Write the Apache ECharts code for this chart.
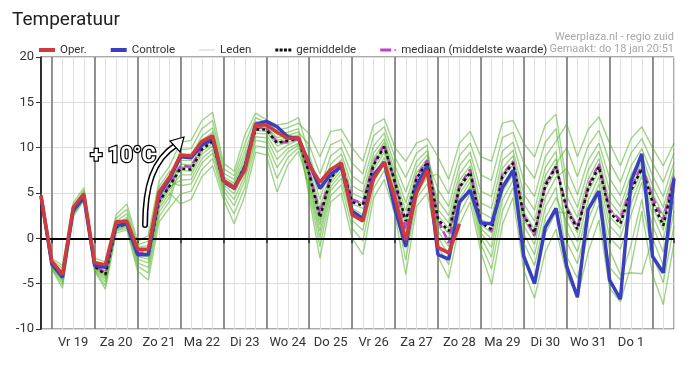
<!DOCTYPE html>
<html>
<head>
<meta charset="utf-8">
<script src="https://cdn.jsdelivr.net/npm/echarts@6/dist/echarts.min.js"></script>
<style>
html,body{margin:0;padding:0;background:#fff;}
#chart{width:694px;height:366px;}
</style>
</head>
<body>
<div id="chart"></div>
<script>
// Day labels (placed at 12:00 of each day); one point every 6 hours from 18 Jan 18:00
const dayLabels = ['Vr 19','Za 20','Zo 21','Ma 22','Di 23','Wo 24','Do 25','Vr 26','Za 27','Zo 28','Ma 29','Di 30','Wo 31','Do 1'];
const yTicks = [-10, -5, 0, 5, 10, 15, 20];

const oper = [4.7,-2.5,-4.0,3.4,4.9,-2.7,-2.9,1.8,1.9,-1.2,-1.2,5.1,6.8,9.2,9.1,10.7,11.3,6.4,5.6,7.5,
  12.5,12.5,11.7,11.0,11.1,8.1,6.2,7.6,8.3,2.6,1.9,6.6,8.4,4.4,-0.2,5.0,7.5,-1.0,-1.6,1.6,
  null,null,null,null,null,null,null,null,null,null,null,null,null,null,null,null,null,null,null,null];
const controle = [4.7,-2.8,-4.3,3.1,4.5,-3.0,-3.2,1.4,1.6,-1.8,-1.8,4.8,6.6,9.0,8.9,10.3,11.0,6.4,5.5,7.8,
  12.6,12.9,12.3,11.2,11.0,8.3,5.5,7.1,7.9,3.0,2.2,7.0,8.4,3.2,-0.9,5.8,8.0,-1.8,-2.3,4.0,
  5.3,1.7,1.6,5.6,7.5,-2.0,-5.0,1.2,3.3,-3.1,-6.5,3.2,5.2,-4.6,-6.7,6.3,9.3,-2.0,-3.8,6.6];
const gemiddelde = [4.7,-2.9,-4.1,3.0,4.6,-3.1,-4.0,1.2,1.6,-1.7,-1.8,4.0,5.8,7.7,7.6,9.8,10.7,6.2,5.6,8.0,
  12.0,12.0,10.5,10.8,11.0,7.1,2.3,6.6,8.1,4.0,3.6,8.1,10.1,6.2,1.9,6.6,8.4,2.1,0.8,5.6,
  7.3,1.7,1.0,6.8,8.3,2.5,0.6,5.8,7.9,3.2,1.0,5.5,7.9,2.9,1.6,5.3,7.7,4.0,1.4,6.4];
const mediaan = [4.7,-2.8,-4.0,3.1,4.7,-3.0,-3.8,1.4,1.7,-1.6,-1.6,4.2,5.9,8.0,7.9,10.0,10.9,6.2,5.4,7.6,
  12.2,12.2,10.6,10.6,11.0,7.3,2.8,6.8,8.2,4.3,3.8,8.3,10.3,6.0,1.0,6.8,8.6,2.0,-0.5,5.8,
  7.6,1.9,0.8,7.0,8.5,2.5,0.3,6.0,8.0,3.4,1.2,5.8,8.2,3.2,2.0,5.6,8.0,4.5,2.1,6.8];

// Ensemble members (Leden)
const lid1 = [4.9,-2.2,-3.0,3.9,5.6,-2.2,-2.6,2.6,3.8,-0.3,0.3,6.3,8.0, 10.6,10.8,13.0,13.9,8.3,7.4,11.4,13.8,13.1,12.5,12.7,13.3, 9.2,5.5,9.1,10.0,6.9,6.0,10.2,11.6,8.0,5.1,8.5,9.7, 2.5,1.1,5.9,7.5,2.1,1.4,7.1,8.5,2.9,1.0,6.1,8.2, 10.0,6.8,10.2,11.9,8.4,6.2,9.4,11.0,8.3,6.2,9.4];
const lid2 = [4.7,-2.9,-4.1,3.0,4.7,-3.1,-3.9,1.3,1.7,-1.6,-1.7,4.1,5.9, 9.8,9.9,12.1,13.0,7.7,6.9,10.4,13.3,12.8,11.9,12.2,12.7, 11.5,9.0,11.8,12.0,10.0,8.5,12.5,13.2,10.0,8.5,10.5,11.0, 9.0,6.5,10.5,11.8,9.0,8.5,12.7,13.0,10.5,9.0,12.5,13.7, 6.0,3.4,7.5,9.6,5.2,3.5,7.0,9.1,5.8,3.4,7.6];
const lid3 = [4.5,-3.4,-5.5,2.4,4.2,-3.6,-5.6,0.6,0.9,-3.6,-4.6,1.8,3.4, 4.9,5.2,7.6,8.8,4.8,2.7,5.6,10.2,10.0,6.6,8.9,10.0, 7.8,3.4,7.4,8.7,5.0,4.4,8.8,10.6,6.8,3.0,7.2,8.8, 5.4,3.5,8.0,9.5,5.2,4.6,9.6,10.6,6.3,4.6,9.0,10.7, 12.6,9.0,12.0,13.4,10.5,8.0,11.0,12.3,10.0,8.0,10.5];
const lid4 = [4.8,-2.6,-3.6,3.4,5.1,-2.7,-3.3,1.9,2.7,-1.0,-0.8,5.1,6.9, 8.6,8.6,10.8,11.7,6.8,6.1,9.0,12.5,12.3,11.1,11.4,11.7, 10.3,7.1,10.3,10.9,8.3,7.1,11.3,12.3,8.9,6.7,9.4,10.3, 0.8,-0.9,4.3,6.2,0.6,-1.0,5.1,7.1,0.5,-1.8,3.4,5.6, -2.0,-4.4,0.5,3.7,-3.2,-4.6,-0.7,4.3,-1.8,-4.9,1.4];
const lid5 = [4.6,-3.1,-4.6,2.8,4.5,-3.3,-4.5,1.0,1.4,-2.3,-2.7,3.3,5.0, 3.8,4.3,6.8,8.0,4.3,1.6,4.7,9.5,9.2,5.1,8.1,9.6, 5.8,0.1,5.3,6.6,2.0,0.9,6.3,8.3,4.4,-1.1,5.1,6.7, 7.1,4.9,9.1,10.5,7.0,6.4,11.1,11.7,8.3,6.6,10.6,12.1, 4.7,2.3,6.5,8.8,4.1,2.6,6.2,8.4,5.0,2.5,7.1];
const lid6 = [4.8,-2.7,-3.8,3.3,4.9,-2.8,-3.6,1.6,2.3,-1.3,-1.2,4.7,6.5, 7.9,7.8,10.0,10.9,6.3,5.7,8.2,12.1,12.1,10.6,10.9,11.1, 4.5,-2.2,4.0,5.0,0.0,-1.8,4.5,6.5,2.5,-4.0,3.5,5.0, -0.9,-2.9,2.7,4.9,-0.6,-3.4,3.0,5.6,-1.8,-4.6,0.5,2.9, 2.8,0.6,5.1,7.5,2.4,1.1,4.8,7.4,3.5,0.9,6.0];
const lid7 = [4.6,-3.3,-5.1,2.6,4.3,-3.5,-5.2,0.8,1.1,-3.1,-3.8,2.4,4.1, 8.2,8.1,10.3,11.2,6.5,5.9,8.5,12.3,12.2,10.8,11.1,11.4, 6.9,2.0,6.4,7.9,3.8,3.3,7.9,9.9,6.0,1.6,6.4,8.2, -2.0,-4.4,1.5,4.0,-1.5,-5.1,1.5,4.5,-3.5,-6.6,-1.5,1.0, -4.0,-6.5,-1.5,2.0,-5.5,-7.0,-3.0,3.0,-4.0,-7.3,-0.5];
const lid8 = [4.7,-2.9,-4.2,3.0,4.6,-3.1,-4.1,1.2,1.6,-1.8,-2.0,3.9,5.7, 6.4,6.5,8.8,9.8,5.6,4.3,6.9,11.2,11.1,8.7,9.9,10.5, 8.4,4.3,8.2,9.3,5.8,5.1,9.4,11.0,7.3,3.9,7.8,9.2, 3.2,1.7,6.4,8.0,2.9,2.2,7.7,9.1,3.8,1.9,6.9,8.8, 0.8,-1.5,3.2,6.0,0.1,-1.2,2.6,6.2,1.4,-1.5,4.1];
const lid9 = [4.8,-2.4,-3.3,3.6,5.3,-2.5,-3.0,2.2,3.2,-0.7,-0.3,5.7,7.4, 7.5,7.4,9.6,10.5,6.1,5.4,7.8,11.9,11.8,10.2,10.6,10.9, 5.2,-0.9,4.7,5.9,1.1,-0.3,5.5,7.5,3.5,-2.4,4.4,6.0, 1.4,-0.1,4.9,6.7,1.1,-0.1,5.9,7.6,1.4,-0.7,4.5,6.7, 7.7,4.8,8.6,10.5,6.6,4.7,8.0,9.9,6.9,4.6,8.4];
const lid10 = [4.6,-3.2,-4.8,2.7,4.4,-3.4,-4.8,0.9,1.3,-2.7,-3.2,2.9,4.6, 9.1,9.1,11.3,12.2,7.2,6.5,9.6,12.9,12.5,11.5,11.7,12.1, 6.6,1.5,6.1,7.5,3.3,2.6,7.5,9.5,5.5,0.8,6.0,7.8, 4.2,2.5,7.1,8.7,3.9,3.3,8.6,9.7,4.9,3.1,7.8,9.6, -0.4,-2.8,2.0,5.0,-1.3,-4.0,-3.8,-3.9,0.0,-3.0,3.0];
const lid11 = [4.7,-2.8,-3.9,3.1,4.8,-3.0,-3.8,1.4,2.0,-1.5,-1.5,4.4,6.2, 5.8,6.0,8.3,9.4,5.3,3.6,6.4,10.8,10.6,7.8,9.5,10.3, 7.3,2.6,6.9,8.3,4.3,3.9,8.3,10.3,6.4,2.2,6.8,8.5, 0.1,-1.8,3.6,5.7,0.1,-2.1,4.2,6.4,-0.5,-3.0,2.2,4.5, 1.9,-0.4,4.2,6.8,1.4,0.1,3.8,6.9,2.6,-0.2,5.2];
const lid12 = [4.7,-3.0,-4.4,2.9,4.5,-3.2,-4.3,1.1,1.5,-2.0,-2.3,3.6,5.4, 7.0,7.0,9.3,10.2,5.9,4.9,7.4,11.6,11.5,9.5,10.3,10.8, 6.2,0.8,5.7,7.1,2.7,1.8,6.9,8.9,5.0,-0.1,5.6,7.3, 1.9,0.5,5.4,7.1,1.5,0.6,6.5,8.1,2.1,0.2,5.4,7.5, 3.7,1.4,5.8,8.2,3.3,1.9,5.6,7.9,4.3,1.7,6.6];
const leden = [lid1,lid2,lid3,lid4,lid5,lid6,lid7,lid8,lid9,lid10,lid11,lid12];

const N = controle.length;
const cats = Array.from({length: N}, (_, i) => String(i));

const cOper = '#cf3a3c', cCtrl = '#3a3fc0', cMean = '#111111', cMed = '#c040c8';
const font = 'Roboto';

const series = [];
leden.forEach(d => series.push({
  name: 'Leden', type: 'line', data: d, showSymbol: false, symbol: 'none', z: 2,
  lineStyle: {color: 'rgba(82,178,40,0.55)', width: 1.4}, itemStyle: {color: '#d4e4cc'}
}));
series.push({
  name: 'nul', type: 'line', data: [], z: 3, symbol: 'none',
  markLine: {silent: true, symbol: 'none', label: {show: false}, animation: false,
    lineStyle: {color: '#000', width: 2, type: 'solid'}, data: [{yAxis: 0}]}
});
series.push({name: 'mediaan (middelste waarde)', type: 'line', data: mediaan, symbol: 'none', z: 4,
  lineStyle: {color: cMed, width: 2.5, type: [7, 4]}, itemStyle: {color: cMed}});
series.push({name: 'gemiddelde', type: 'line', data: gemiddelde, symbol: 'none', z: 5,
  lineStyle: {color: cMean, width: 2.5, type: [3, 3]}, itemStyle: {color: cMean}});
series.push({name: 'Controle', type: 'line', data: controle, symbol: 'none', z: 6,
  lineStyle: {color: cCtrl, width: 3.5}, itemStyle: {color: cCtrl}});
series.push({name: 'Oper.', type: 'line', data: oper, symbol: 'none', z: 7, connectNulls: false,
  lineStyle: {color: cOper, width: 3.5}, itemStyle: {color: cOper}});

const chart = echarts.init(document.getElementById('chart'), null, {renderer: 'canvas'});
chart.setOption({
  animation: false,
  textStyle: {fontFamily: font},
  title: {text: 'Temperatuur', left: 7, top: 6,
    textStyle: {fontSize: 19, fontWeight: 'normal', color: '#222', fontFamily: font}},
  legend: {
    left: 39, top: 44, padding: 0, itemWidth: 16, itemHeight: 4, itemGap: 24, selectedMode: false,
    textStyle: {fontSize: 11.5, color: '#333', fontFamily: font},
    data: [
      {name: 'Oper.', icon: 'rect', itemStyle: {color: cOper}},
      {name: 'Controle', icon: 'rect', itemStyle: {color: cCtrl}},
      {name: 'Leden', icon: 'path://M0,0h16v1.2h-16z', itemStyle: {color: '#cfe0c6'}},
      {name: 'gemiddelde', icon: 'path://M0,0h3v3h-3z M4.3,0h3v3h-3z M8.6,0h3v3h-3z M13,0h3v3h-3z', itemStyle: {color: cMean}},
      {name: 'mediaan (middelste waarde)', icon: 'path://M0,0h11v3h-11z M14,1h2v1.2h-2z', itemStyle: {color: cMed}}
    ]
  },
  grid: {left: 41, right: 20, top: 57, bottom: 37, show: true, borderColor: '#555', borderWidth: 1},
  xAxis: [{
    type: 'category', data: cats, boundaryGap: false, position: 'bottom',
    axisLine: {show: true, lineStyle: {color: '#000', width: 1.5}},
    axisTick: {show: true, length: 5, interval: (i) => i % 4 === 1 || i === 0 || i === N - 1,
      lineStyle: {color: '#333', width: 1.5}},
    axisLabel: {show: true, interval: (i) => i % 4 === 3, margin: 7, fontSize: 13, color: '#333',
      formatter: (v, i) => dayLabels[(i - 3) / 4] || ''},
    splitLine: {show: true, interval: 0, lineStyle: {color: '#e0e0e0', width: 1}}
  }, {
    type: 'category', data: cats, boundaryGap: false, position: 'top',
    axisLine: {show: false}, axisTick: {show: false}, axisLabel: {show: false},
    splitLine: {show: true, interval: (i) => i % 4 === 1, lineStyle: {color: '#707070', width: 1.5}}
  }],
  yAxis: {
    type: 'value', min: yTicks[0], max: yTicks[yTicks.length - 1], interval: 5,
    axisLine: {show: true, lineStyle: {color: '#000', width: 1.5}},
    axisTick: {show: true, length: 5, lineStyle: {color: '#333'}},
    axisLabel: {fontSize: 13, color: '#333', margin: 7},
    splitLine: {show: true, lineStyle: {color: '#dcdcdc', width: 1}}
  },
  series: series,
  graphic: [
    {type: 'text', right: 20, top: 32, z: 50,
      style: {text: 'Weerplaza.nl - regio zuid', fill: '#a8a8a8', font: '11px Roboto'}},
    {type: 'text', right: 20, top: 44, z: 50,
      style: {text: 'Gemaakt: do 18 jan 20:51', fill: '#a8a8a8', font: '11px Roboto'}},
    {type: 'bezierCurve', z: 60, silent: true,
      shape: {x1: 145, y1: 225, cpx1: 145, cpy1: 186, cpx2: 153, cpy2: 160, x2: 176, y2: 145},
      style: {stroke: '#000', lineWidth: 6, fill: null, lineCap: 'round'}},
    {type: 'bezierCurve', z: 61, silent: true,
      shape: {x1: 145, y1: 225, cpx1: 145, cpy1: 186, cpx2: 153, cpy2: 160, x2: 176, y2: 145},
      style: {stroke: '#fff', lineWidth: 3, fill: null, lineCap: 'round'}},
    {type: 'polygon', z: 62, silent: true,
      shape: {points: [[184, 137], [170, 141], [180, 152]]},
      style: {fill: '#fff', stroke: '#000', lineWidth: 1.2}},
    {type: 'text', left: 89, top: 144, z: 63, silent: true,
      style: {text: '+ 10°C', font: 'bold 22px Roboto', fill: '#fff', stroke: '#000', lineWidth: 2.5}}
  ]
});
</script>
</body>
</html>
